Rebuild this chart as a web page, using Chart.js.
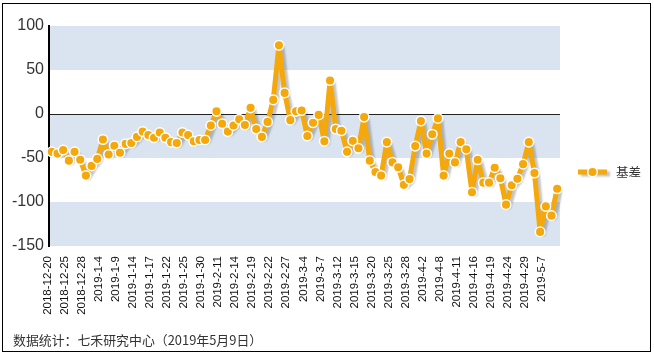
<!DOCTYPE html>
<html><head><meta charset="utf-8">
<script src="https://cdn.jsdelivr.net/npm/chart.js@4"></script>
<style>
html,body{margin:0;padding:0;background:#fff;}
#wrap{position:relative;width:654px;height:355px;overflow:hidden;}
#frame{position:absolute;left:2px;top:3px;width:649px;height:349px;border:1.5px solid #000;box-sizing:border-box;pointer-events:none;}
#c{position:absolute;left:0;top:0;}
#foot{position:absolute;left:13px;top:330px;font:12.9px "Noto Sans CJK SC","Liberation Sans",sans-serif;color:#333;white-space:nowrap;}
</style></head>
<body>
<div id="wrap">
<canvas id="c" width="654" height="355"></canvas>
<div id="frame"></div>
<div id="foot">数据统计：七禾研究中心（2019年5月9日）</div>
</div>
<script>
const categories = [
"2018-12-20","2018-12-21","2018-12-24","2018-12-25","2018-12-26","2018-12-27","2018-12-28",
"2019-1-2","2019-1-3","2019-1-4","2019-1-7","2019-1-8","2019-1-9","2019-1-10","2019-1-11",
"2019-1-14","2019-1-15","2019-1-16","2019-1-17","2019-1-18","2019-1-21","2019-1-22","2019-1-23",
"2019-1-24","2019-1-25","2019-1-28","2019-1-29","2019-1-30","2019-1-31","2019-2-1",
"2019-2-11","2019-2-12","2019-2-13","2019-2-14","2019-2-15","2019-2-18","2019-2-19","2019-2-20",
"2019-2-21","2019-2-22","2019-2-25","2019-2-26","2019-2-27","2019-2-28",
"2019-3-1","2019-3-4","2019-3-5","2019-3-6","2019-3-7","2019-3-8","2019-3-11","2019-3-12",
"2019-3-13","2019-3-14","2019-3-15","2019-3-18","2019-3-19","2019-3-20","2019-3-21","2019-3-22",
"2019-3-25","2019-3-26","2019-3-27","2019-3-28","2019-3-29",
"2019-4-1","2019-4-2","2019-4-3","2019-4-4","2019-4-8","2019-4-9","2019-4-10","2019-4-11",
"2019-4-12","2019-4-15","2019-4-16","2019-4-17","2019-4-18","2019-4-19","2019-4-22","2019-4-23",
"2019-4-24","2019-4-25","2019-4-26","2019-4-29","2019-4-30",
"2019-5-6","2019-5-7","2019-5-8","2019-5-9"];

const basis = [
-43,-45,-41,-53,-43,-52,-70,-59,-51,-29,
-46,-36,-44,-34,-33,-26,-20,-24,-27,-21,
-27,-32,-33,-21,-24,-31,-29.5,-29.5,-13,3,
-11,-20,-13,-6,-12.5,7,-17,-26,-9,16,
78,24,-7,3,4,-25,-10,-1,-31,38,
-17,-19,-43,-30.5,-39,-3.5,-53,-66,-70,-32,
-55,-60.5,-80.5,-74,-36.5,-8,-45,-23,-5,-70,
-45,-55,-32,-40,-89,-52,-78,-78,-61,-73,
-103,-81,-73.5,-57,-32,-67,-134,-105,-115.5,-85];

const tickLabels = ["2018-12-20","2018-12-25","2018-12-28","2019-1-4","2019-1-9","2019-1-14",
"2019-1-17","2019-1-22","2019-1-25","2019-1-30","2019-2-11","2019-2-14","2019-2-19","2019-2-22",
"2019-2-27","2019-3-4","2019-3-7","2019-3-12","2019-3-15","2019-3-20","2019-3-25","2019-3-28",
"2019-4-2","2019-4-8","2019-4-11","2019-4-16","2019-4-19","2019-4-24","2019-4-29","2019-5-7"];

const yTicks = [100, 50, 0, -50, -100, -150];
const bands = [[100, 50], [0, -50], [-100, -150]];
const seriesName = "基差";

const ORANGE = "#F4A80C";
const BAND = "#DAE4F0";

const bandPlugin = {
  id: "bands",
  beforeDraw(chart) {
    const {ctx, chartArea, scales} = chart;
    ctx.save();
    ctx.fillStyle = BAND;
    bands.forEach(([a, b]) => {
      const y1 = scales.y.getPixelForValue(a), y2 = scales.y.getPixelForValue(b);
      ctx.fillRect(chartArea.left, y1, chartArea.right - chartArea.left, y2 - y1);
    });
    ctx.restore();
  }
};

const shadowPlugin = {
  id: "shadow",
  beforeDatasetDraw(chart, args) {
    if (args.index === 0) {
      const ctx = chart.ctx;
      ctx.save();
      ctx.shadowColor = "rgba(60,60,60,0.30)";
      ctx.shadowOffsetX = 3;
      ctx.shadowOffsetY = 2;
      ctx.shadowBlur = 2;
    }
  },
  afterDatasetDraw(chart, args) {
    if (args.index === 0) chart.ctx.restore();
  }
};

const legendPlugin = {
  id: "customLegend",
  afterDraw(chart) {
    const {ctx, chartArea} = chart;
    const x0 = chartArea.right + 18, y = chartArea.top + 146;
    ctx.save();
    ctx.shadowColor = "rgba(60,60,60,0.30)";
    ctx.shadowOffsetX = 3; ctx.shadowOffsetY = 2; ctx.shadowBlur = 2;
    ctx.strokeStyle = ORANGE; ctx.lineWidth = 5;
    ctx.beginPath(); ctx.moveTo(x0, y); ctx.lineTo(x0 + 29, y); ctx.stroke();
    ctx.restore();
    ctx.save();
    ctx.beginPath(); ctx.arc(x0 + 14.5, y, 4.8, 0, Math.PI * 2);
    ctx.fillStyle = ORANGE; ctx.fill();
    ctx.lineWidth = 1.5; ctx.strokeStyle = "#fff"; ctx.stroke();
    ctx.fillStyle = "#333";
    ctx.font = '12.5px "Noto Sans CJK SC", sans-serif';
    ctx.textBaseline = "middle";
    ctx.fillText(seriesName, x0 + 38, y);
    ctx.restore();
  }
};

new Chart(document.getElementById("c"), {
  type: "line",
  data: {
    labels: categories,
    datasets: [
      {
        label: seriesName, data: basis, borderColor: ORANGE, borderWidth: 5,
        borderJoinStyle: "round", borderCapStyle: "round",
        pointRadius: 0, tension: 0, fill: false, order: 2
      },
      {
        label: seriesName + "点", data: basis, showLine: false,
        pointRadius: 4.8, pointBackgroundColor: ORANGE, pointBorderColor: "#fff",
        pointBorderWidth: 1.5, order: 1
      }
    ]
  },
  options: {
    responsive: false,
    animation: false,
    devicePixelRatio: 1,
    layout: { padding: { top: 26, right: 94, left: 0, bottom: 0 } },
    plugins: { legend: { display: false }, tooltip: { enabled: false } },
    scales: {
      x: {
        type: "category",
        offset: true,
        grid: { display: false },
        border: { display: false },
        ticks: {
          autoSkip: false, maxRotation: 90, minRotation: 90,
          color: "#111", padding: 2, labelOffset: -4,
          font: { family: '"Liberation Sans", Arial, sans-serif', size: 11.5 },
          callback: function (v, i) { const l = categories[i]; return tickLabels.includes(l) ? l : ""; }
        },
        afterFit(scale) { scale.height = 109; }
      },
      y: {
        min: -150, max: 100,
        afterBuildTicks(scale) { scale.ticks = yTicks.map(v => ({ value: v })); },
        grid: {
          drawTicks: false,
          color: ctx => (ctx.tick && ctx.tick.value === 0) ? "#222" : "rgba(0,0,0,0)",
          lineWidth: 1
        },
        border: { display: true, color: "#000", width: 2 },
        ticks: {
          color: "#333", padding: 5,
          font: { family: '"Liberation Sans", Arial, sans-serif', size: 16 }
        },
        afterFit(scale) { scale.width = 49; }
      }
    }
  },
  plugins: [bandPlugin, shadowPlugin, legendPlugin]
});
</script>
</body></html>
